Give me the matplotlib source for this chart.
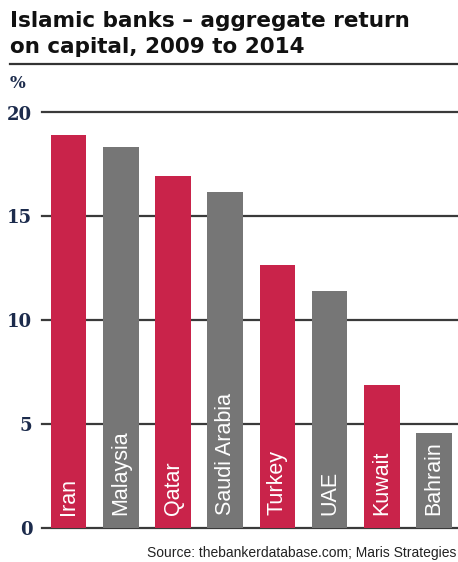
import matplotlib
matplotlib.use("Agg")
import matplotlib.pyplot as plt
from matplotlib.lines import Line2D

countries = ["Iran", "Malaysia", "Qatar", "Saudi Arabia", "Turkey", "UAE", "Kuwait", "Bahrain"]
values = [18.9, 18.35, 16.95, 16.15, 12.65, 11.4, 6.85, 4.55]
yticks = [0, 5, 10, 15, 20]

RED = "#C9234A"
GRAY = "#767676"
colors = [RED if i % 2 == 0 else GRAY for i in range(len(countries))]

W, H = 458, 562
fig = plt.figure(figsize=(W / 100, H / 100), dpi=100)
fig.patch.set_facecolor("white")

ax = fig.add_axes([42 / W, 1 - 527.7 / H, 1 - 42 / W, (527.7 - 112.5) / H])
ax.set_xlim(-0.51, 7.46)
ax.set_ylim(0, 20)

for y in yticks:
    ax.axhline(y, color="#3a3a3a", lw=1.6, zorder=1, clip_on=False)

x = list(range(len(countries)))
ax.bar(x, values, width=0.68, color=colors, zorder=2)

for xi, name in zip(x, countries):
    ax.text(xi, 0.6, name, rotation=90, ha="center", va="bottom",
            color="white", fontsize=15.5, family="Liberation Sans", zorder=3)

ax.set_yticks(yticks)
ax.set_yticklabels([str(t) for t in yticks], family="DejaVu Serif",
                   fontweight="bold", fontsize=13, color="#1c2b4c")
ax.tick_params(axis="y", length=0, pad=7)
ax.tick_params(axis="x", length=0, labelbottom=False)
for s in ax.spines.values():
    s.set_visible(False)

fig.text(10 / W, 1 - 27 / H, "Islamic banks – aggregate return",
         ha="left", va="baseline", fontsize=15.5, fontweight="bold",
         family="DejaVu Sans", color="#111111")
fig.text(10 / W, 1 - 53 / H, "on capital, 2009 to 2014",
         ha="left", va="baseline", fontsize=15.5, fontweight="bold",
         family="DejaVu Sans", color="#111111")
fig.add_artist(Line2D([10 / W, 1], [1 - 64 / H, 1 - 64 / H], color="#333333", lw=1.6,
                      transform=fig.transFigure))
fig.text(10 / W, 1 - 83 / H, "%", ha="left", va="center", fontsize=12,
         family="DejaVu Serif", fontweight="bold", color="#1c2b4c")
fig.text(456 / W, 1 - 553 / H, "Source: thebankerdatabase.com; Maris Strategies",
         ha="right", va="center", fontsize=10, family="Liberation Sans", color="#222222")

fig.savefig("out.png", dpi=100)
